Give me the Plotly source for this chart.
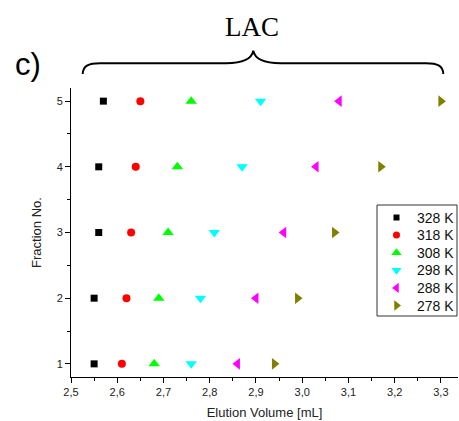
import plotly.graph_objects as go

# ---- data ----
fractions = [1, 2, 3, 4, 5]
temps = ["328 K", "318 K", "308 K", "298 K", "288 K", "278 K"]
vol_328 = [2.55, 2.55, 2.56, 2.56, 2.57]
vol_318 = [2.61, 2.62, 2.63, 2.64, 2.65]
vol_308 = [2.68, 2.69, 2.71, 2.73, 2.76]
vol_298 = [2.76, 2.78, 2.81, 2.87, 2.91]
vol_288 = [2.86, 2.90, 2.96, 3.03, 3.08]
vol_278 = [2.94, 2.99, 3.07, 3.17, 3.30]
x_tickvals = [2.5, 2.6, 2.7, 2.8, 2.9, 3.0, 3.1, 3.2, 3.3]
x_ticktext = ["2,5", "2,6", "2,7", "2,8", "2,9", "3,0", "3,1", "3,2", "3,3"]
y_tickvals = [1, 2, 3, 4, 5]

series = [vol_328, vol_318, vol_308, vol_298, vol_288, vol_278]
colors = ["#000000", "#FF0000", "#00FF00", "#00FFFF", "#FF00FF", "#808000"]
symbols = ["square", "circle", "triangle-up", "triangle-down", "triangle-left", "triangle-right"]
sizes = [7, 8, 10, 10, 10, 10]

# body margin is removed in the page (post_script), so figure pixels == screen pixels
W, H = 459, 421
SX0, SX1, SY0, SY1 = 71, 458, 88, 377
L, R, T, B = SX0, W - SX1, SY0, H - SY1
pw, ph = SX1 - SX0, SY1 - SY0

def px(x):
    return (x - SX0) / pw

def py(y):
    return (SY1 - y) / ph

fig = go.Figure()
for name, vals, c, s, sz in zip(temps, series, colors, symbols, sizes):
    fig.add_trace(go.Scatter(
        x=vals, y=fractions, mode="markers", name=name, showlegend=False,
        marker=dict(symbol=s, color=c, size=sz, line=dict(width=0)),
    ))

# ---- legend box drawn by hand (pixel layout) ----
LEG_X0, LEG_X1, LEG_Y0, LEG_Y1 = 377, 457, 205, 316
LEG_MX, LEG_TX, LEG_ROW0, LEG_DY = 396.5, 415, 217.5, 17.6
fig.add_shape(type="rect", xref="paper", yref="paper",
              x0=px(LEG_X0), x1=px(LEG_X1), y0=py(LEG_Y1), y1=py(LEG_Y0),
              line=dict(color="#333", width=1), fillcolor="rgba(0,0,0,0)")
for i, (name, c, s, sz) in enumerate(zip(temps, colors, symbols, sizes)):
    ry = LEG_ROW0 + i * LEG_DY
    fig.add_trace(go.Scatter(
        x=[px(LEG_MX)], y=[py(ry)], xaxis="x2", yaxis="y2", mode="markers",
        showlegend=False, hoverinfo="skip", cliponaxis=False,
        marker=dict(symbol=s, color=c, size=sz - 1, line=dict(width=0)),
    ))
    fig.add_annotation(text=name, x=px(LEG_TX), y=py(ry), xref="paper", yref="paper",
                       showarrow=False, xanchor="left", yanchor="middle",
                       font=dict(family="Liberation Sans", size=14, color="#111"))

# brace path (pixel coords -> paper)
pts = [
    ("M", [(82.7, 74)]),
    ("C", [(83, 66), (88, 63.3), (100, 63.3)]),
    ("L", [(226, 63.3)]),
    ("C", [(246, 63.3), (252, 58), (253.3, 50.7)]),
    ("C", [(254.6, 58), (260.6, 63.3), (280.6, 63.3)]),
    ("L", [(426, 63.3)]),
    ("C", [(438, 63.3), (443, 66), (443.3, 74)]),
]
path = " ".join(
    cmd + " " + " ".join(f"{px(a):.5f},{py(b):.5f}" for a, b in p) for cmd, p in pts
)
fig.add_shape(type="path", path=path, xref="paper", yref="paper",
              line=dict(color="black", width=2))

fig.add_annotation(text="LAC", x=px(252), y=py(27), xref="paper", yref="paper",
                   showarrow=False, font=dict(family="Liberation Serif", size=27, color="black"),
                   xanchor="center", yanchor="middle")
fig.add_annotation(text="c)", x=px(28), y=py(64), xref="paper", yref="paper",
                   showarrow=False, font=dict(family="Liberation Sans", size=31, color="black"),
                   xanchor="center", yanchor="middle")

axis_font = dict(family="Liberation Sans", size=11, color="#222")
xaxis = dict(
    range=[2.5, 3.337], tickvals=x_tickvals, ticktext=x_ticktext,
    showline=True, linecolor="black", linewidth=1, showgrid=False, zeroline=False,
    ticks="outside", ticklen=5, tickcolor="black", tickfont=axis_font,
    minor=dict(ticks="outside", dtick=0.05, tick0=2.5, ticklen=3, tickcolor="black", showgrid=False),
    title=dict(text="Elution Volume [mL]", font=dict(family="Liberation Sans", size=13, color="#222"), standoff=10),
)
yaxis = dict(
    range=[0.8, 5.2], tickvals=y_tickvals,
    showline=True, linecolor="black", linewidth=1, showgrid=False, zeroline=False,
    ticks="outside", ticklen=5, tickcolor="black", tickfont=axis_font,
    minor=dict(ticks="outside", dtick=0.5, tick0=0.5, ticklen=3, tickcolor="black", showgrid=False),
    title=dict(text="Fraction No.", font=dict(family="Liberation Sans", size=13, color="#222"), standoff=12),
)

fig.update_layout(
    width=W, height=H,
    margin=dict(l=L, r=R, t=T, b=B, pad=0, autoexpand=False),
    paper_bgcolor="white", plot_bgcolor="white",
    showlegend=False,
    xaxis=xaxis, yaxis=yaxis,
    xaxis2=dict(overlaying="x", range=[0, 1], visible=False, anchor="y2", fixedrange=True),
    yaxis2=dict(overlaying="y", range=[0, 1], visible=False, anchor="x2", fixedrange=True),
)

fig.write_html(
    "out.html",
    config={"displayModeBar": False},
    post_script="document.body.style.margin='0';document.documentElement.style.overflow='hidden';",
)
